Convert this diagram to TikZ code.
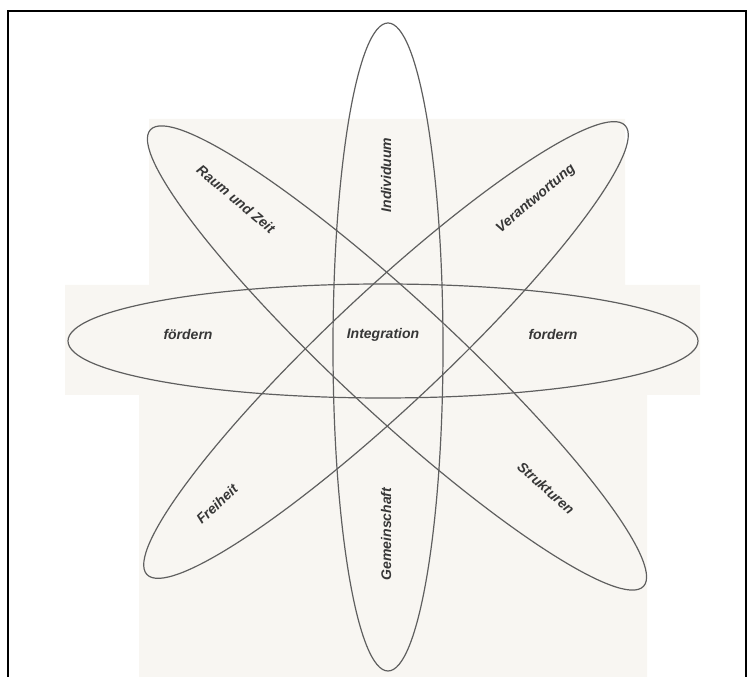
\documentclass[tikz,border=0pt]{standalone}
\usepackage{fontspec}
\newfontfamily\labfont{Liberation Sans}
\definecolor{scanbg}{RGB}{248,246,242}
\definecolor{ringcol}{RGB}{95,95,95}
\definecolor{txtcol}{RGB}{55,55,55}
\tikzset{
  ring/.style={draw=ringcol, line width=0.9pt},
  lab/.style={font=\labfont\bfseries\itshape\fontsize{10.5}{12}\selectfont, text=txtcol, inner sep=1pt},
}
\begin{document}
\begin{tikzpicture}[x=0.75pt,y=0.75pt]
\useasboundingbox (0,0) rectangle (754,677);
% scan background
\fill[scanbg] (149,558) -- (625,558) -- (625,392) -- (700,392) -- (700,282) -- (647,282)
  -- (647,0) -- (139,0) -- (139,282) -- (65,282) -- (65,392) -- (149,392) -- cycle;
% frame
\draw[line width=1.5pt] (7.8,0) -- (7.8,666.2) -- (745.5,666.2) -- (745.5,0);
% ellipses
\draw[ring] (388,330) ellipse [x radius=55, y radius=324];
\draw[ring] (383,336) ellipse [x radius=315, y radius=57];
\draw[ring] (397,319) ellipse [x radius=336, y radius=57, rotate=-42.8];
\draw[ring] (386,327) ellipse [x radius=328, y radius=57, rotate=43.2];
% labels
\node[lab] (integ) at (383,342) {Integration};
\node[lab] (foerd) at (188,342) {fördern};
\node[lab] (ford) at (553,342) {fordern};
\node[lab, rotate=90] (indiv) at (386,502) {Individuum};
\node[lab, rotate=90] (gemein) at (386,143) {Gemeinschaft};
\node[lab, rotate=-40] (raum) at (236,478) {Raum und Zeit};
\node[lab, rotate=40] (verant) at (536,478) {Verantwortung};
\node[lab, rotate=43] (frei) at (217,173) {Freiheit};
\node[lab, rotate=-42] (struk) at (546,189) {Strukturen};
\end{tikzpicture}
\end{document}
